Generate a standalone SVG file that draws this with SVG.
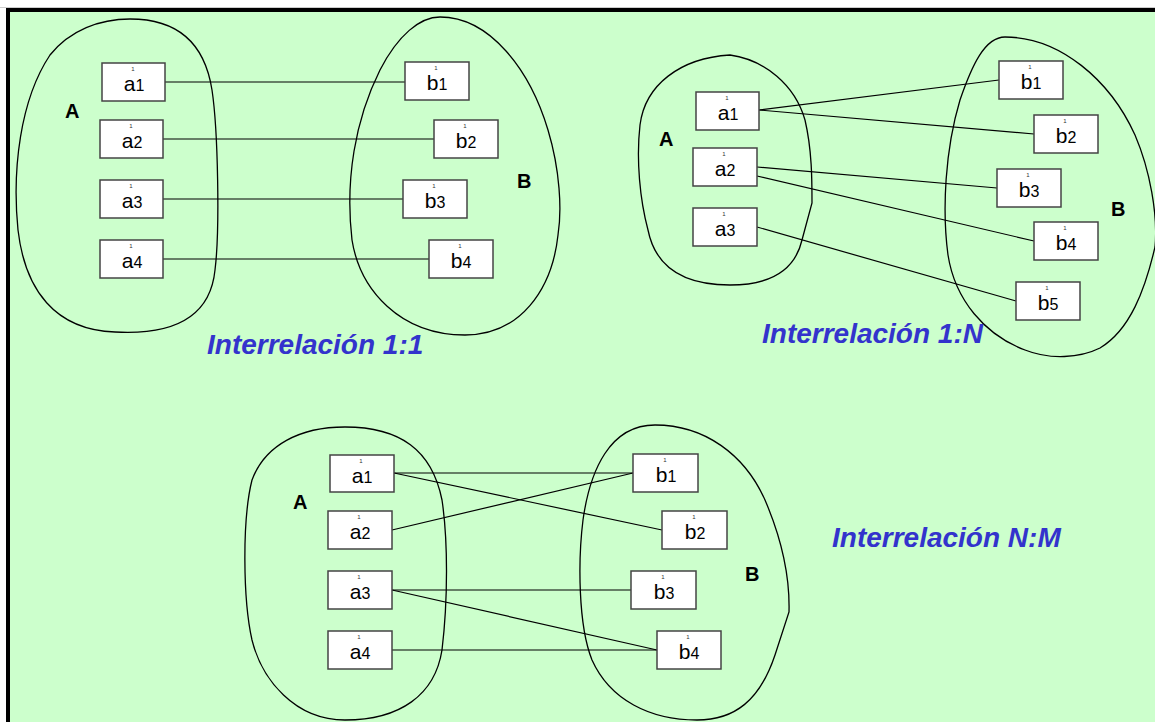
<svg xmlns="http://www.w3.org/2000/svg" width="1155" height="722" viewBox="0 0 1155 722">
<style>
.set{fill:none;stroke:#000;stroke-width:1.3}
.box rect{fill:#fff;stroke:#444;stroke-width:1.5}
.lbl{font-family:"Liberation Sans",Arial,sans-serif;font-size:21px;fill:#000;text-anchor:middle}
.lbl tspan.s{font-size:16px}
.tiny{font-family:"Liberation Sans",Arial,sans-serif;font-size:6px;fill:#333;text-anchor:middle}
.setname{font-family:"Liberation Sans",Arial,sans-serif;font-size:20px;font-weight:bold;fill:#000}
.title{font-family:"Liberation Sans",Arial,sans-serif;font-size:28px;font-weight:bold;font-style:italic;fill:#3333CC}
#connectors line{stroke:#000;stroke-width:1.2}
</style>
<rect x="0" y="0" width="1155" height="722" fill="#fff"/>
<line x1="0" y1="7.5" x2="1155" y2="7.5" stroke="#ccc" stroke-width="1"/>
<rect x="8" y="10" width="1147" height="712" fill="#CCFFCC"/>
<line x1="6" y1="10" x2="1155" y2="10" stroke="#000" stroke-width="4"/>
<line x1="8" y1="8" x2="8" y2="722" stroke="#000" stroke-width="4"/>

<g id="sets">
<path class="set" d="M130,19 C180,19 205,45 212,90 C218,130 220,230 215,270 C210,320 170,335 115,332 C55,330 25,290 18,230 C12,170 20,100 50,55 C70,30 100,19 130,19 Z"/>
<path class="set" d="M440,17 C490,17 530,70 548,130 C560,170 562,210 558,235 C552,290 520,335 465,335 C400,335 360,290 352,240 C345,180 355,120 380,70 C398,35 420,17 440,17 Z"/>
<path class="set" d="M730,55 C765,60 795,85 805,120 C812,150 812,180 812,203 L802,240 C795,270 770,285 730,285 C680,285 655,265 648,230 C640,200 636,160 640,125 C645,85 680,58 730,55 Z"/>
<path class="set" d="M1005,37 C1060,37 1110,80 1135,135 C1150,170 1158,215 1155,247 C1145,290 1130,330 1100,348 C1080,358 1050,360 1025,350 C985,335 955,300 948,255 C942,210 945,150 960,100 C972,65 985,37 1005,37 Z"/>
<path class="set" d="M345,427 C400,427 432,450 442,500 C448,540 448,600 442,650 C435,695 400,720 345,720 C295,720 262,680 252,640 C243,600 242,520 252,480 C265,445 300,427 345,427 Z"/>
<path class="set" d="M655,425 C705,425 745,455 765,500 C780,535 790,575 789,612 L775,655 C760,700 735,720 697,720 C650,720 610,700 592,660 C578,625 578,560 583,520 C590,470 610,425 655,425 Z"/>
</g>

<g id="connectors">
<line x1="165" y1="82" x2="405" y2="82"/>
<line x1="163" y1="139" x2="434" y2="139"/>
<line x1="163" y1="199" x2="403" y2="199"/>
<line x1="163" y1="259" x2="429" y2="259"/>
<line x1="759" y1="110" x2="999" y2="80"/>
<line x1="759" y1="110" x2="1034" y2="134"/>
<line x1="757" y1="167" x2="997" y2="188"/>
<line x1="757" y1="176" x2="1034" y2="241"/>
<line x1="757" y1="227" x2="1016" y2="301"/>
<line x1="394" y1="473" x2="633" y2="473"/>
<line x1="394" y1="473" x2="662" y2="530"/>
<line x1="392" y1="530" x2="633" y2="473"/>
<line x1="392" y1="590" x2="631" y2="590"/>
<line x1="392" y1="590" x2="657" y2="650"/>
<line x1="392" y1="650" x2="657" y2="650"/>
</g>

<!-- 1:1 -->
<g id="d1-a1" class="box"><rect x="102" y="63" width="63" height="38"/><text class="tiny" x="133" y="70.5">1</text><text class="lbl" x="134" y="91">a<tspan class="s">1</tspan></text></g>
<g id="d1-a2" class="box"><rect x="100" y="120" width="63" height="38"/><text class="tiny" x="131" y="127.5">1</text><text class="lbl" x="132" y="148">a<tspan class="s">2</tspan></text></g>
<g id="d1-a3" class="box"><rect x="100" y="180" width="63" height="38"/><text class="tiny" x="131" y="187.5">1</text><text class="lbl" x="132" y="208">a<tspan class="s">3</tspan></text></g>
<g id="d1-a4" class="box"><rect x="100" y="240" width="63" height="38"/><text class="tiny" x="131" y="247.5">1</text><text class="lbl" x="132" y="268">a<tspan class="s">4</tspan></text></g>
<g id="d1-b1" class="box"><rect x="405" y="62" width="64" height="38"/><text class="tiny" x="436" y="69.5">1</text><text class="lbl" x="437" y="90">b<tspan class="s">1</tspan></text></g>
<g id="d1-b2" class="box"><rect x="434" y="120" width="64" height="38"/><text class="tiny" x="465" y="127.5">1</text><text class="lbl" x="466" y="148">b<tspan class="s">2</tspan></text></g>
<g id="d1-b3" class="box"><rect x="403" y="180" width="64" height="38"/><text class="tiny" x="434" y="187.5">1</text><text class="lbl" x="435" y="208">b<tspan class="s">3</tspan></text></g>
<g id="d1-b4" class="box"><rect x="429" y="240" width="64" height="38"/><text class="tiny" x="460" y="247.5">1</text><text class="lbl" x="461" y="268">b<tspan class="s">4</tspan></text></g>
<g id="d1-A"><text class="setname" x="65" y="118">A</text></g>
<g id="d1-B"><text class="setname" x="517" y="188">B</text></g>
<g id="d1-title"><text class="title" x="207" y="354">Interrelación 1:1</text></g>

<!-- 1:N -->
<g id="d2-a1" class="box"><rect x="696" y="92" width="63" height="38"/><text class="tiny" x="727" y="99.5">1</text><text class="lbl" x="728" y="120">a<tspan class="s">1</tspan></text></g>
<g id="d2-a2" class="box"><rect x="693" y="148" width="64" height="38"/><text class="tiny" x="724" y="155.5">1</text><text class="lbl" x="725" y="176">a<tspan class="s">2</tspan></text></g>
<g id="d2-a3" class="box"><rect x="693" y="208" width="64" height="38"/><text class="tiny" x="724" y="215.5">1</text><text class="lbl" x="725" y="236">a<tspan class="s">3</tspan></text></g>
<g id="d2-b1" class="box"><rect x="999" y="61" width="64" height="38"/><text class="tiny" x="1030" y="68.5">1</text><text class="lbl" x="1031" y="89">b<tspan class="s">1</tspan></text></g>
<g id="d2-b2" class="box"><rect x="1034" y="115" width="64" height="38"/><text class="tiny" x="1065" y="122.5">1</text><text class="lbl" x="1066" y="143">b<tspan class="s">2</tspan></text></g>
<g id="d2-b3" class="box"><rect x="997" y="169" width="64" height="38"/><text class="tiny" x="1028" y="176.5">1</text><text class="lbl" x="1029" y="197">b<tspan class="s">3</tspan></text></g>
<g id="d2-b4" class="box"><rect x="1034" y="222" width="64" height="38"/><text class="tiny" x="1065" y="229.5">1</text><text class="lbl" x="1066" y="250">b<tspan class="s">4</tspan></text></g>
<g id="d2-b5" class="box"><rect x="1016" y="282" width="64" height="38"/><text class="tiny" x="1047" y="289.5">1</text><text class="lbl" x="1048" y="310">b<tspan class="s">5</tspan></text></g>
<g id="d2-A"><text class="setname" x="659" y="146">A</text></g>
<g id="d2-B"><text class="setname" x="1111" y="216">B</text></g>
<g id="d2-title"><text class="title" x="762" y="343">Interrelación 1:N</text></g>

<!-- N:M -->
<g id="d3-a1" class="box"><rect x="330" y="455" width="64" height="37"/><text class="tiny" x="361" y="462.5">1</text><text class="lbl" x="362" y="483">a<tspan class="s">1</tspan></text></g>
<g id="d3-a2" class="box"><rect x="328" y="511" width="64" height="38"/><text class="tiny" x="359" y="518.5">1</text><text class="lbl" x="360" y="539">a<tspan class="s">2</tspan></text></g>
<g id="d3-a3" class="box"><rect x="328" y="571" width="64" height="38"/><text class="tiny" x="359" y="578.5">1</text><text class="lbl" x="360" y="599">a<tspan class="s">3</tspan></text></g>
<g id="d3-a4" class="box"><rect x="328" y="631" width="64" height="38"/><text class="tiny" x="359" y="638.5">1</text><text class="lbl" x="360" y="659">a<tspan class="s">4</tspan></text></g>
<g id="d3-b1" class="box"><rect x="633" y="454" width="65" height="38"/><text class="tiny" x="665" y="461.5">1</text><text class="lbl" x="666" y="482">b<tspan class="s">1</tspan></text></g>
<g id="d3-b2" class="box"><rect x="662" y="511" width="65" height="38"/><text class="tiny" x="694" y="518.5">1</text><text class="lbl" x="695" y="539">b<tspan class="s">2</tspan></text></g>
<g id="d3-b3" class="box"><rect x="631" y="571" width="65" height="38"/><text class="tiny" x="663" y="578.5">1</text><text class="lbl" x="664" y="599">b<tspan class="s">3</tspan></text></g>
<g id="d3-b4" class="box"><rect x="657" y="631" width="64" height="38"/><text class="tiny" x="688" y="638.5">1</text><text class="lbl" x="689" y="659">b<tspan class="s">4</tspan></text></g>
<g id="d3-A"><text class="setname" x="293" y="509">A</text></g>
<g id="d3-B"><text class="setname" x="745" y="581">B</text></g>
<g id="d3-title"><text class="title" x="832" y="547">Interrelación N:M</text></g>
</svg>
